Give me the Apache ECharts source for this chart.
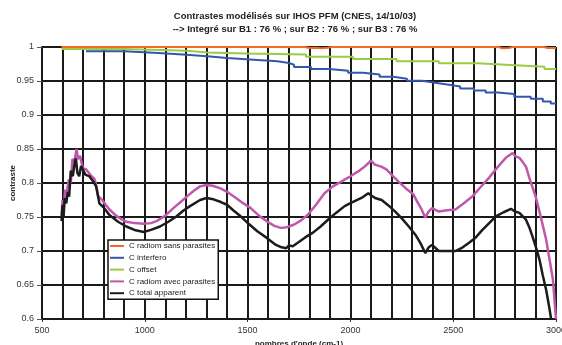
<!DOCTYPE html>
<html>
<head>
<meta charset="utf-8">
<script src="https://cdn.jsdelivr.net/npm/echarts@6/dist/echarts.min.js"></script>
<style>
  html, body { margin: 0; padding: 0; background: #fff; }
  #chart { width: 562px; height: 345px; }
</style>
</head>
<body>
<div id="chart"></div>
<script>
// values: [wavenumber (cm-1), contrast]
const radiomSansParasites = [
    [595, 1], [1780, 1], [1800, 0.9985], [1830, 0.999], [1860, 0.998], [1890, 0.999], [1910, 1],
    [2720, 1], [2740, 0.998], [2770, 0.9985], [2790, 1], [2940, 1], [2960, 0.9985], [3000, 0.9985]
];

// staircase series: each point = where the new level starts
const interfero = [
    [714, 0.9936], [902, 0.991], [1064, 0.9887], [1204, 0.986], [1318, 0.9838], [1400, 0.9813],
    [1530, 0.979], [1645, 0.9765], [1701, 0.974], [1726, 0.9706], [1809, 0.9676], [1897, 0.965],
    [1989, 0.962], [2062, 0.9597], [2142, 0.9563], [2209, 0.9534], [2275, 0.9504], [2348, 0.9475],
    [2412, 0.9446], [2479, 0.942], [2534, 0.939], [2601, 0.936], [2658, 0.933], [2716, 0.931],
    [2797, 0.927], [2877, 0.924], [2936, 0.92], [2975, 0.917], [3000, 0.917]
];

const offset = [
    [595, 0.997], [900, 0.9945], [1204, 0.992], [1302, 0.9905], [1495, 0.9888], [1784, 0.9855],
    [2013, 0.9823], [2225, 0.979], [2430, 0.976], [2618, 0.9735], [2780, 0.971], [2944, 0.9676],
    [3000, 0.9676]
];

const radiomAvecParasites = [
    [595, 0.752], [600, 0.775], [606, 0.762], [612, 0.79], [620, 0.785], [630, 0.805], [640, 0.8],
    [648, 0.835], [658, 0.832], [668, 0.85], [675, 0.835], [685, 0.84], [698, 0.822], [715, 0.82],
    [735, 0.812], [755, 0.806], [765, 0.795], [772, 0.781], [790, 0.776], [810, 0.768], [828, 0.761],
    [860, 0.752], [890, 0.746], [910, 0.743], [950, 0.741], [995, 0.74], [1030, 0.741], [1057, 0.744],
    [1100, 0.752], [1139, 0.763], [1170, 0.771], [1204, 0.78], [1240, 0.789], [1269, 0.795],
    [1300, 0.797], [1330, 0.796], [1368, 0.792], [1400, 0.787], [1433, 0.78], [1470, 0.772],
    [1515, 0.763], [1555, 0.752], [1597, 0.743], [1630, 0.737], [1662, 0.734], [1690, 0.735],
    [1727, 0.739], [1760, 0.745], [1792, 0.753], [1830, 0.767], [1874, 0.785], [1915, 0.795],
    [1956, 0.802], [2000, 0.81], [2038, 0.817], [2065, 0.823], [2087, 0.829], [2100, 0.833],
    [2119, 0.827], [2150, 0.824], [2175, 0.82], [2201, 0.812], [2234, 0.802], [2270, 0.792],
    [2307, 0.783], [2324, 0.773], [2345, 0.762], [2364, 0.749], [2380, 0.758], [2397, 0.763],
    [2430, 0.758], [2470, 0.76], [2511, 0.761], [2550, 0.77], [2593, 0.78], [2642, 0.797],
    [2675, 0.808], [2707, 0.82], [2735, 0.83], [2756, 0.837], [2789, 0.844], [2800, 0.84],
    [2822, 0.837], [2840, 0.83], [2854, 0.824], [2870, 0.808], [2903, 0.778], [2930, 0.745],
    [2952, 0.717], [2970, 0.685], [2985, 0.658], [3000, 0.6]
];

const totalApparent = [
    [595, 0.744], [600, 0.768], [605, 0.75], [610, 0.778], [618, 0.77], [625, 0.787], [632, 0.78],
    [640, 0.818], [650, 0.81], [660, 0.832], [665, 0.836], [672, 0.815], [681, 0.81], [690, 0.825],
    [698, 0.82], [712, 0.812], [730, 0.81], [750, 0.802], [763, 0.795], [770, 0.785], [779, 0.77],
    [800, 0.764], [828, 0.753], [870, 0.743], [910, 0.736], [950, 0.731], [995, 0.728], [1030, 0.731],
    [1074, 0.736], [1115, 0.743], [1155, 0.751], [1190, 0.76], [1220, 0.766], [1269, 0.775],
    [1300, 0.778], [1334, 0.776], [1370, 0.772], [1400, 0.768], [1430, 0.76], [1466, 0.751],
    [1505, 0.74], [1547, 0.729], [1590, 0.72], [1638, 0.709], [1660, 0.706], [1688, 0.704],
    [1700, 0.708], [1720, 0.707], [1744, 0.712], [1780, 0.72], [1818, 0.727], [1855, 0.736],
    [1891, 0.746], [1930, 0.756], [1972, 0.766], [2010, 0.772], [2054, 0.778], [2087, 0.785],
    [2100, 0.782], [2120, 0.778], [2152, 0.775], [2185, 0.767], [2218, 0.758], [2250, 0.748],
    [2284, 0.736], [2316, 0.724], [2340, 0.712], [2364, 0.697], [2380, 0.705], [2397, 0.709],
    [2430, 0.7], [2470, 0.7], [2511, 0.7], [2545, 0.705], [2577, 0.712], [2610, 0.72], [2642, 0.731],
    [2675, 0.741], [2707, 0.751], [2745, 0.757], [2781, 0.762], [2800, 0.758], [2822, 0.756],
    [2854, 0.746], [2870, 0.735], [2887, 0.72], [2905, 0.703], [2920, 0.687], [2935, 0.665],
    [2952, 0.643], [2969, 0.614], [2976, 0.6]
];

const seriesNames = [
    'C radiom sans parasites',
    'C interfero',
    'C offset',
    'C radiom avec parasites',
    'C total apparent'
];
const seriesColors = ['#f26a26', '#3556ad', '#98cc45', '#c157ad', '#1c1c1c'];
const seriesWidths = [2, 2, 2, 2.5, 2.5];

const titleLines = [
    'Contrastes modélisés sur IHOS PFM (CNES, 14/10/03)',
    '--> Integré sur B1 : 76 % ; sur B2 : 76 % ; sur B3 : 76 %'
];

const font = '"Liberation Sans", Arial, sans-serif';
const gridLine = { color: '#1a1a1a', width: 2 };

const chart = echarts.init(document.getElementById('chart'), null, { renderer: 'canvas' });

function lineSeries(i, data, step) {
    return {
        name: seriesNames[i],
        type: 'line',
        data: data,
        step: step || false,
        showSymbol: false,
        symbol: 'none',
        lineStyle: { color: seriesColors[i], width: seriesWidths[i] },
        itemStyle: { color: seriesColors[i] },
        animation: false
    };
}

chart.setOption({
    animation: false,
    backgroundColor: '#fff',
    textStyle: { fontFamily: font },
    title: {
        text: titleLines.join('\n'),
        left: 290,
        top: 5,
        textAlign: 'center',
        textStyle: { fontSize: 9.5, fontWeight: 'bold', color: '#222', lineHeight: 13, fontFamily: font }
    },
    legend: {
        orient: 'vertical',
        left: 108,
        top: 240,
        padding: [1, 3, 1, 2],
        itemGap: 1.8,
        itemWidth: 14,
        itemHeight: 2,
        icon: 'rect',
        backgroundColor: '#fff',
        borderColor: '#111',
        borderWidth: 1.5,
        textStyle: { fontSize: 8, color: '#222', lineHeight: 10, fontFamily: font },
        data: seriesNames
    },
    grid: {
        left: 42,
        right: 6,
        top: 47,
        bottom: 26,
        containLabel: false,
        outerBoundsMode: 'none'
    },
    xAxis: {
        type: 'value',
        min: 500,
        max: 3000,
        interval: 500,
        name: "nombres d'onde (cm-1)",
        nameLocation: 'middle',
        nameGap: 21,
        nameMoveOverlap: false,
        nameTextStyle: { fontSize: 8, fontWeight: 'bold', color: '#222', fontFamily: font },
        axisLine: { show: true, onZero: false, lineStyle: gridLine },
        axisTick: { show: true, length: 3, lineStyle: { color: '#333', width: 1 } },
        axisLabel: {
            fontSize: 9,
            color: '#333',
            margin: 7,
            fontFamily: font,
            formatter: function (v) { return String(v); }
        },
        splitLine: { show: true, lineStyle: gridLine },
        minorTick: { show: false, splitNumber: 5 },
        minorSplitLine: { show: true, lineStyle: gridLine }
    },
    yAxis: {
        type: 'value',
        min: 0.6,
        max: 1,
        interval: 0.05,
        name: 'contraste',
        nameLocation: 'middle',
        nameGap: 25,
        nameMoveOverlap: false,
        nameTextStyle: { fontSize: 8, fontWeight: 'bold', color: '#222', fontFamily: font },
        axisLine: { show: true, lineStyle: gridLine },
        axisTick: { show: true, length: 5, lineStyle: { color: '#555', width: 1 } },
        axisLabel: {
            fontSize: 9,
            color: '#333',
            margin: 8,
            fontFamily: font,
            formatter: function (v) { return String(Math.round(v * 100) / 100); }
        },
        splitLine: { show: true, lineStyle: gridLine }
    },
    series: [
        lineSeries(0, radiomSansParasites),
        lineSeries(1, interfero, 'end'),
        lineSeries(2, offset, 'end'),
        lineSeries(3, radiomAvecParasites),
        lineSeries(4, totalApparent)
    ]
});
</script>
</body>
</html>
